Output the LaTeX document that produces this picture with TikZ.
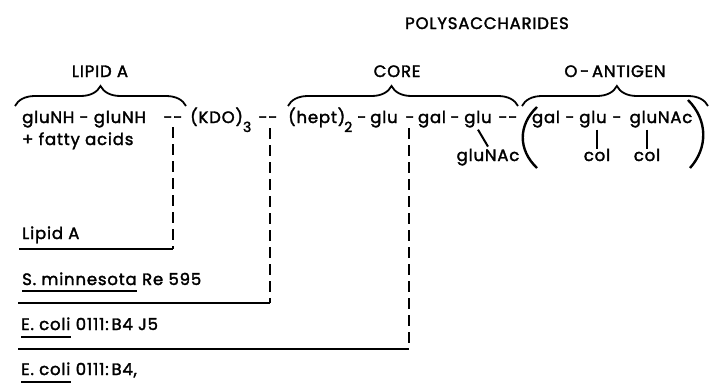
\documentclass[tikz,border=0pt]{standalone}
\usepackage{fontspec}
\setmainfont{Poppins}[LetterSpace=5, AutoFakeBold=2]
\usetikzlibrary{decorations.pathreplacing}
\newcommand\subdig[1]{\raisebox{-9pt}{\fontsize{14}{14}\selectfont #1}}
\begin{document}
\begin{tikzpicture}[x=1pt,y=-1pt,
  txt/.style={font=\fontsize{16.5}{18}\selectfont\bfseries, inner sep=0pt, anchor=base},
  txtw/.style={txt, anchor=base west},
  brc/.style={decorate, decoration={brace, amplitude=20pt, raise=0pt}, line width=1.8pt},
  dsh/.style={line width=2.4pt, dash pattern=on 11pt off 6pt},
  bar/.style={line width=2.4pt},
  uline/.style={line width=1.6pt},
  tick/.style={line width=2pt}]
\useasboundingbox (0,0) rectangle (709,391);

% headings
\node[txt] (poly) at (487,29) {POLYSACCHARIDES};
\node[txt] (lipidA) at (100,77) {LIPID A};
\node[txt] (core) at (397,77) {CORE};
\node[txt] (oant) at (615,77) {O\,-\,ANTIGEN};

% braces
\coordinate (bA1) at (15,106);  \coordinate (bA2) at (186,106);
\coordinate (bC1) at (288,106); \coordinate (bC2) at (518,106);
\coordinate (bO1) at (522,106); \coordinate (bO2) at (708,106);
\draw[brc] (bA1) -- (bA2);
\draw[brc, decoration={aspect=0.45}] (bC1) -- (bC2);
\draw[brc, decoration={aspect=0.51}] (bO1) -- (bO2);

% row 1
\node[txtw] (g1) at (22,123) {gluNH - gluNH};
\node[txt] (d1) at (173,123) {-{}-};
\node[txtw] (kdo) at (190,123) {(KDO)\subdig{3}};
\node[txt] (d2) at (268,123) {-{}-};
\node[txtw] (hept) at (288,123) {(hept)\kern-1pt\subdig{2}};
\node[txt] (h3) at (362,123) {-};
\node[txt] (glu1) at (384,123) {glu};
\node[txt] (h4) at (410,123) {-};
\node[txt] (gal1) at (432,123) {gal};
\node[txt] (h5) at (455,123) {-};
\node[txt] (glu2) at (478,123) {glu};
\node[txt] (d3) at (508,123) {-{}-};
\node[txt] (gal2) at (546,123) {gal};
\node[txt] (h6) at (570,123) {-};
\node[txt] (glu3) at (593,123) {glu};
\node[txt] (h7) at (617,123) {-};
\node[txt] (glunac1) at (661,123) {gluNAc};

% row 2
\node[txtw] (fa) at (22,145) {+ fatty acids};
\node[txt] (glunac2) at (488,161) {gluNAc};
\node[txt] (col1) at (597,161) {col};
\node[txt] (col2) at (647,161) {col};

% branch ticks
\draw[tick] ([yshift=-2pt]glu2.south) -- ([yshift=2pt]glunac2.north);
\draw[tick] ([yshift=-2pt]col1.north |- glu3.south) -- (col1.north);
\draw[tick] ([yshift=-2pt]col2.north |- glunac1.south) -- (col2.north);

% big parentheses
\coordinate (pl1) at (537,107); \coordinate (pl2) at (537,168);
\coordinate (pr1) at (688,100); \coordinate (pr2) at (690,168);
\draw[bar] (pl1) .. controls (518,125) and (518,150) .. (pl2);
\draw[bar] (pr1) .. controls (708,120) and (708,148) .. (pr2);

% strain labels
\node[txtw] (la) at (22,239) {Lipid A};
\node[txtw] (sm) at (22,285) {S. minnesota};
\node[txtw] (re) at ([xshift=5pt]sm.base east) {Re 595};
\node[txtw] (ec1) at (21,330) {E. coli};
\node[txtw] (j5) at ([xshift=5pt]ec1.base east) {0111:\,B4 J5};
\node[txtw] (ec2) at (21,375) {E. coli};
\node[txtw] (b4) at ([xshift=5pt]ec2.base east) {0111:\,B4,};
\draw[uline] ([yshift=-6pt]sm.base west) -- ([yshift=-6pt]sm.base east);
\draw[uline] ([yshift=-7pt]ec1.base west) -- ([yshift=-7pt]ec1.base east);
\draw[uline] ([yshift=-7pt]ec2.base west) -- ([yshift=-7pt]ec2.base east);

% extent bars and dashed links
\coordinate (sA) at (19,249);  \coordinate (eA) at (173,249);
\coordinate (sB) at (18,303);  \coordinate (eB) at (270,303);
\coordinate (sC) at (18,349);  \coordinate (eC) at (409,349);
\draw[bar] (sA) -- (eA);
\draw[bar] (sB) -- (eB);
\draw[bar] (sC) -- (eC);
\draw[dsh] ([yshift=-4pt]d1.south) -- (eA);
\draw[dsh] ([yshift=-5pt]d2.south -| eB) -- (eB);
\draw[dsh] ([yshift=-5pt]h4.south -| eC) -- (eC);
\end{tikzpicture}
\end{document}
